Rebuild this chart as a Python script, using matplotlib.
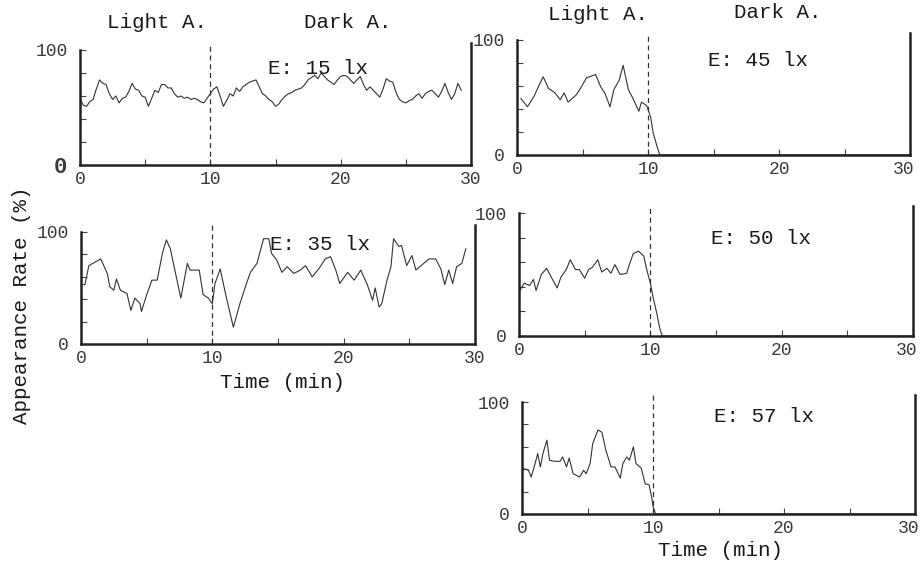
import matplotlib
matplotlib.use("Agg")
import matplotlib.pyplot as plt
import matplotlib.transforms as mtransforms

# ---------------- data ----------------
t15 = [0, 0.25, 0.5, 0.75, 1.0, 1.25, 1.5, 1.75, 2.0, 2.25, 2.5, 2.75, 3.0, 3.25, 3.5, 3.75,
       4.0, 4.25, 4.5, 4.75, 5.0, 5.25, 5.5, 5.75, 6.0, 6.25, 6.5, 6.75, 7.0, 7.25, 7.5, 7.75,
       8.0, 8.25, 8.5, 8.75, 9.0, 9.25, 9.5, 9.75, 10.0, 10.25, 10.5, 10.75, 11.0, 11.25, 11.5,
       11.75, 12.0, 12.25, 12.5, 12.75, 13.0, 13.25, 13.5, 13.75, 14.0, 14.25, 14.5, 14.75, 15.0,
       15.25, 15.5, 15.75, 16.0, 16.25, 16.5, 16.75, 17.0, 17.25, 17.5, 17.75, 18.0, 18.25, 18.5,
       18.75, 19.0, 19.25, 19.5, 19.75, 20.0, 20.25, 20.5, 20.75, 21.0, 21.25, 21.5, 21.75, 22.0,
       22.25, 22.5, 22.75, 23.0, 23.25, 23.5, 23.75, 24.0, 24.25, 24.5, 24.75, 25.0, 25.25, 25.5,
       25.75, 26.0, 26.25, 26.5, 26.75, 27.0, 27.25, 27.5, 27.75, 28.0, 28.25, 28.5, 28.75, 29.0,
       29.25]
v15 = [58, 52, 51, 55, 57, 66, 74, 71, 70, 62, 57, 60, 54, 58, 59, 64,
       71, 66, 65, 60, 59, 51, 58, 65, 63, 70, 70, 67, 67, 62, 59, 60,
       58, 59, 57, 58, 57, 55, 54, 58, 62, 66, 68, 60, 51, 56, 62,
       60, 67, 64, 68, 70, 72, 73, 74, 68, 62, 60, 57, 55, 51,
       53, 57, 60, 62, 63, 65, 66, 67, 70, 74, 76, 78, 75, 80,
       77, 74, 72, 70, 74, 77, 78, 77, 74, 71, 74, 77, 70, 65,
       68, 65, 62, 59, 66, 75, 73, 72, 63, 57, 55, 54, 56, 57,
       60, 62, 58, 62, 64, 65, 62, 59, 64, 71, 63, 57, 62, 71,
       65]

t35 = [0, 0.3, 0.6, 1.5, 2.0, 2.2, 2.5, 2.7, 3.0, 3.5, 3.8, 4.1, 4.5, 4.6, 5.0, 5.4, 5.8,
       6.2, 6.5, 6.8, 7.2, 7.6, 8.1, 8.3, 9.0, 9.3, 9.7, 10.0, 10.2, 10.6, 11.0, 11.6, 12.1,
       12.6, 12.9, 13.4, 13.9, 14.3, 14.5, 14.9, 15.3, 15.7, 16.2, 16.7, 17.1, 17.6, 18.1,
       18.6, 19.0, 19.4, 19.7, 20.3, 20.8, 21.3, 21.8, 22.2, 22.4, 22.7, 22.9, 23.3, 23.6,
       23.8, 24.2, 24.4, 24.8, 25.2, 25.5, 25.8, 26.5, 27.0, 27.4, 27.7, 28.0, 28.3, 28.6,
       29.0, 29.3]
v35 = [53, 53, 70, 76, 63, 51, 48, 58, 48, 45, 30, 41, 36, 29, 44, 57, 57,
       81, 93, 85, 63, 41, 72, 66, 66, 44, 41, 36, 54, 67, 45, 15, 36,
       54, 64, 72, 94, 94, 81, 75, 64, 69, 63, 66, 70, 60, 67,
       76, 78, 66, 54, 64, 57, 66, 53, 39, 50, 33, 36, 57, 69,
       94, 87, 88, 70, 79, 66, 69, 76, 76, 67, 53, 66, 54, 69,
       72, 85]

t45 = [0.3, 0.8, 1.3, 1.7, 2.0, 2.4, 2.9, 3.3, 3.6, 3.9, 4.5, 4.8, 5.3, 6.0, 6.4, 6.7, 7.1,
       7.4, 7.8, 8.1, 8.5, 8.9, 9.3, 9.5, 9.9, 10.2, 10.4, 10.7, 10.9, 30.0]
v45 = [49, 42, 51, 61, 68, 58, 54, 48, 54, 46, 52, 57, 67, 70, 59, 54, 42,
       57, 65, 78, 57, 48, 38, 46, 43, 33, 19, 7, 0, 0]

t50 = [0, 0.4, 0.8, 1.1, 1.3, 1.7, 2.1, 2.5, 2.9, 3.2, 3.6, 3.9, 4.3, 4.6, 5.0, 5.3, 5.6,
       6.0, 6.3, 6.7, 7.0, 7.3, 7.7, 8.2, 8.4, 8.7, 9.1, 9.5, 9.7, 10.0, 10.2, 10.5, 10.7,
       10.9, 30.0]
v50 = [36, 43, 41, 46, 37, 50, 55, 47, 39, 48, 54, 62, 54, 54, 47, 54, 56,
       62, 52, 55, 51, 58, 50, 51, 58, 67, 69, 65, 55, 43, 32, 18, 7,
       0, 0]

t57 = [0, 0.5, 0.7, 1.0, 1.2, 1.4, 1.6, 1.9, 2.1, 2.5, 2.9, 3.1, 3.4, 3.6, 3.9, 4.4, 4.7,
       4.9, 5.2, 5.4, 5.8, 6.1, 6.4, 6.8, 7.1, 7.5, 7.7, 8.0, 8.2, 8.5, 8.7, 9.1, 9.4, 9.7,
       9.9, 10.0, 10.2, 30.0]
v57 = [41, 39, 33, 45, 54, 42, 54, 66, 48, 47, 47, 51, 42, 50, 36, 33, 39,
       36, 45, 63, 75, 73, 57, 42, 42, 32, 45, 51, 48, 60, 45, 41, 27, 26,
       15, 7, 0, 0]

panels = [
    # (times, values, label, [left, bottom-of-0, right, top-of-100] in px)
    (t15, v15, "E: 15 lx", (80, 165, 471, 50)),
    (t35, v35, "E: 35 lx", (81, 344, 475, 232)),
    (t45, v45, "E: 45 lx", (517, 155, 910, 40)),
    (t50, v50, "E: 50 lx", (519, 336, 913, 213)),
    (t57, v57, "E: 57 lx", (522, 514, 915, 402)),
]
label_pos = [(318, 68), (320, 245), (758, 60), (761, 238), (764, 417)]

W, H = 923, 562
MONO = "Liberation Mono"
ink = "#1a1a1a"

fig = plt.figure(figsize=(W / 100, H / 100), dpi=100)

for i, ((tt, vv, lab, (l, b, r, t)), (lx, ly)) in enumerate(zip(panels, label_pos)):
    h100 = b - t
    ax = fig.add_axes([l / W, 1 - b / H, (r - l) / W, 1.06 * h100 / H])
    ax.set_xlim(0, 30)
    ax.set_ylim(0, 106)
    ax.plot(tt, vv, color="#333333", lw=0.8)
    ax.axvline(10, ymin=0, ymax=1.0, color="#333333", lw=0.9, ls=(0, (4, 3)))
    ax.spines["top"].set_visible(False)
    ax.spines["left"].set_bounds(0, 100)
    for s in ("left", "bottom", "right"):
        ax.spines[s].set_linewidth(1.8)
        ax.spines[s].set_color("#222222")
    ax.set_xticks([0, 10, 20, 30])
    ax.set_xticks([5, 15, 25], minor=True)
    ax.set_yticks([0, 100])
    ax.set_yticks([20, 40, 60, 80], minor=True)
    ax.tick_params(axis="both", which="both", direction="in", length=4, width=0.8,
                   colors="#444444", labelsize=13)
    ax.tick_params(axis="y", which="both", right=False)
    ax.tick_params(axis="x", pad=4)
    ax.tick_params(axis="y", pad=9)
    for lbl in ax.get_xticklabels() + ax.get_yticklabels():
        lbl.set_fontfamily(MONO)
        lbl.set_color("#3a3a3a")
    if i >= 2:
        last = ax.get_xticklabels()[-1]
        last.set_transform(last.get_transform() +
                           mtransforms.ScaledTranslation(-6 / 100, 0, fig.dpi_scale_trans))
    if i == 0:
        ylbls = ax.get_yticklabels()
        ylbls[0].set_fontsize(16)
        ylbls[0].set_fontweight("bold")
    fig.text(lx / W, 1 - ly / H, lab, ha="center", va="center",
             fontsize=15, family=MONO, color=ink)

# Light / Dark headers
for x, y, s in [(157, 23, "Light A."), (348, 23, "Dark A."),
                (598, 15, "Light A."), (778, 13, "Dark A.")]:
    fig.text(x / W, 1 - y / H, s, ha="center", va="center", fontsize=15,
             family=MONO, color=ink)

fig.text(283 / W, 1 - 382 / H, "Time (min)", ha="center", va="center",
         fontsize=15, family=MONO, color=ink)
fig.text(720 / W, 1 - 550 / H, "Time (min)", ha="center", va="center",
         fontsize=15, family=MONO, color=ink)
fig.text(22 / W, 1 - 305 / H, "Appearance Rate (%)", ha="center", va="center",
         rotation=90, fontsize=15, family=MONO, color=ink)

fig.savefig("out.png", dpi=100)
